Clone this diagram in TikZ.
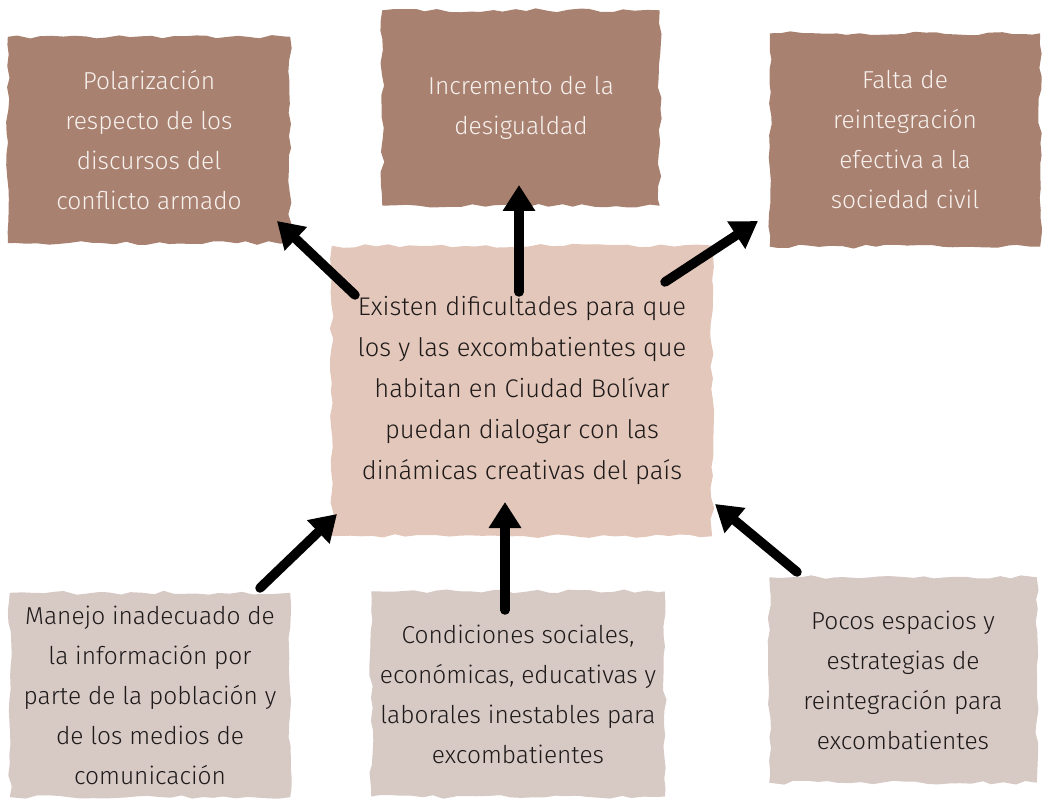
\documentclass[tikz,border=0pt]{standalone}
\usepackage{fontspec}
\setmainfont{Fira Sans}[UprightFont=* Light]
\usetikzlibrary{arrows.meta,decorations.pathmorphing,backgrounds}
\definecolor{topc}{HTML}{A98170}
\definecolor{midc}{HTML}{E3C7BA}
\definecolor{botc}{HTML}{D7C9C4}
\definecolor{ink}{HTML}{1E1A1A}
\definecolor{paper}{HTML}{F7F1EE}
\begin{document}
\begin{tikzpicture}[x=1pt,y=-1pt,
  box/.style={inner sep=0pt, align=center, font=\fontsize{24.5}{40}\selectfont},
  topbox/.style={box, text=paper},
  midbox/.style={box, text=ink, font=\fontsize{25.5}{41}\selectfont},
  botbox/.style={box, text=ink},
  rough/.style={decorate, decoration={random steps, segment length=11pt, amplitude=2pt}},
  arr/.style={black, line width=9.5pt, line cap=round, -{Triangle[width=31pt,length=26pt]}}
]
\useasboundingbox (0,0) rectangle (1042,799);
\pgfmathsetseed{11}
% boxes
\node[topbox, minimum width=282pt, minimum height=206pt] (tl) at (149,140)
  {Polarización\\respecto de los\\discursos del\\conflicto armado};
\node[topbox, minimum width=277pt, minimum height=195pt] (tm) at (521,108)
  {Incremento de la\\desigualdad};
\node[topbox, minimum width=270pt, minimum height=213pt] (tr) at (905,140)
  {Falta de\\reintegración\\efectiva a la\\sociedad civil};
\node[midbox, minimum width=380pt, minimum height=290pt] (c) at (522,391)
  {Existen dificultades para que\\los y las excombatientes que\\habitan en Ciudad Bolívar\\puedan dialogar con las\\dinámicas creativas del país};
\node[botbox, minimum width=280pt, minimum height=204pt] (bl) at (150,695)
  {Manejo inadecuado de\\la información por\\parte de la población y\\de los medios de\\comunicación};
\node[botbox, minimum width=293pt, minimum height=205pt] (bm) at (518,694)
  {Condiciones sociales,\\económicas, educativas y\\laborales inestables para\\excombatientes};
\node[botbox, minimum width=267pt, minimum height=205pt] (br) at (903,680)
  {Pocos espacios y\\estrategias de\\reintegración para\\excombatientes};
\begin{scope}[on background layer]
  \fill[topc, rough] (tl.south west) rectangle (tl.north east);
  \fill[topc, rough] (tm.south west) rectangle (tm.north east);
  \fill[topc, rough] (tr.south west) rectangle (tr.north east);
  \fill[midc, rough] (c.south west) rectangle (c.north east);
  \fill[botc, rough] (bl.south west) rectangle (bl.north east);
  \fill[botc, rough] (bm.south west) rectangle (bm.north east);
  \fill[botc, rough] (br.south west) rectangle (br.north east);
\end{scope}
% arrow ends
\coordinate (a1s) at (355,295); \coordinate (a1e) at (277,221);
\coordinate (a2s) at (519,292); \coordinate (a2e) at (519,185);
\coordinate (a3s) at (665,282); \coordinate (a3e) at (758,221);
\coordinate (a4s) at (260,588); \coordinate (a4e) at (337,514);
\coordinate (a5s) at (505,610); \coordinate (a5e) at (505,502);
\coordinate (a6s) at (797,572); \coordinate (a6e) at (715,504);
\draw[arr] (a1s) -- (a1e);
\draw[arr] (a2s) -- (a2e);
\draw[arr] (a3s) -- (a3e);
\draw[arr] (a4s) -- (a4e);
\draw[arr] (a5s) -- (a5e);
\draw[arr] (a6s) -- (a6e);
\end{tikzpicture}
\end{document}
